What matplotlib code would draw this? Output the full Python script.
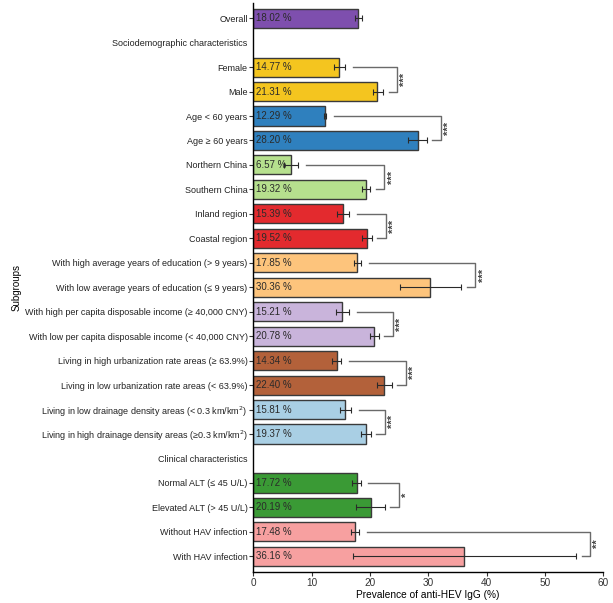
import matplotlib
matplotlib.use("Agg")
import matplotlib.pyplot as plt
import numpy as np

plt.rcParams["font.family"] = ["Liberation Sans", "DejaVu Sans"]

# rows top -> bottom; None = section header row (no bar)
labels = [
    "Overall",
    "Sociodemographic characteristics",
    "Female", "Male",
    "Age < 60 years", "Age \u2265 60 years",
    "Northern China", "Southern China",
    "Inland region", "Coastal region",
    "With high average years of education (> 9 years)",
    "With low average years of education (\u2264 9 years)",
    "With high per capita disposable income (\u2265 40,000 CNY)",
    "With low per capita disposable income (< 40,000 CNY)",
    "Living in high urbanization rate areas (\u2265 63.9%)",
    "Living in low urbanization rate areas (< 63.9%)",
    "Living in low drainage density areas (< 0.3 km/km$^2$)",
    "Living in high drainage density areas (\u22650.3 km/km$^2$)",
    "Clinical characteristics",
    "Normal ALT (\u2264 45 U/L)", "Elevated ALT (> 45 U/L)",
    "Without HAV infection", "With HAV infection",
]
values = [18.02, None, 14.77, 21.31, 12.29, 28.20, 6.57, 19.32, 15.39, 19.52,
          17.85, 30.36, 15.21, 20.78, 14.34, 22.40, 15.81, 19.37, None,
          17.72, 20.19, 17.48, 36.16]
ci_low = [17.4, None, 13.9, 20.6, 12.1, 26.6, 5.2, 18.7, 14.4, 18.7,
          17.3, 25.2, 14.2, 20.1, 13.5, 21.3, 14.8, 18.5, None,
          17.0, 17.7, 16.8, 17.1]
ci_high = [18.7, None, 15.8, 22.3, 12.5, 29.8, 7.7, 20.1, 16.5, 20.4,
           18.5, 35.7, 16.5, 21.6, 15.1, 23.8, 16.8, 20.2, None,
           18.4, 22.6, 18.2, 55.4]
colors = ["#7E4FAE", None, "#F4C51F", "#F4C51F", "#2F80BE", "#2F80BE",
          "#B6E08E", "#B6E08E", "#E32A2E", "#E32A2E", "#FDC47C", "#FDC47C",
          "#C9B4DB", "#C9B4DB", "#B3613A", "#B3613A", "#A9CFE4", "#A9CFE4",
          None, "#3A9A35", "#3A9A35", "#F7A0A0", "#F7A0A0"]

# comparison pairs (row indices) and significance marks
pairs = [(2, 3), (4, 5), (6, 7), (8, 9), (10, 11), (12, 13), (14, 15),
         (16, 17), (19, 20), (21, 22)]
stars = ["***", "***", "***", "***", "***", "***", "***", "***", "*", "**"]

fig = plt.figure(figsize=(6.13, 6.03), dpi=100)
ax = fig.add_axes([0.413, 0.051, 0.571, 0.944])

y = np.arange(len(labels))
for i, v in enumerate(values):
    if v is None:
        continue
    ax.barh(i, v, height=0.78, color=colors[i], edgecolor="#3a3a3a",
            linewidth=1.0, zorder=2)
    ax.errorbar(v, i, xerr=[[v - ci_low[i]], [ci_high[i] - v]], fmt="none",
                ecolor="#2a2a2a", elinewidth=0.8, capsize=2.5, capthick=0.8,
                zorder=3)
    ax.text(0.4, i, f"{v:.2f} %", va="center", ha="left", fontsize=7,
            color="#2a2a2a", zorder=4)

# significance brackets
for (a, b), s in zip(pairs, stars):
    xa = ci_high[a] + 1.3
    xb = ci_high[b] + 0.9
    xv = max(ci_high[a], ci_high[b]) + 2.4
    ax.plot([xa, xv, xv, xb], [a, a, b, b], color="#6a6a6a", lw=1.0,
            zorder=1, clip_on=False)
    ax.text(xv + 0.5, (a + b) / 2, s, rotation=90, va="center", ha="left",
            fontsize=8, fontweight="bold", color="#444444")

ax.set_yticks(y)
ax.set_yticklabels(labels, fontsize=6.5)
for i, v in enumerate(values):
    if v is None:
        ax.yaxis.get_major_ticks()[i].tick1line.set_visible(False)
ax.set_ylim(22.65, -0.62)
ax.set_xlim(0, 60)
ax.set_xticks(range(0, 61, 10))
ax.tick_params(axis="x", labelsize=7.2, length=3, width=0.8, pad=1.5,
               colors="#333333")
ax.tick_params(axis="y", length=3, width=0.8, pad=1, colors="#333333")
for lab in ax.get_yticklabels():
    lab.set_color("#222222")
ax.set_xlabel("Prevalence of anti-HEV IgG (%)", fontsize=7.3, labelpad=1)
ax.set_ylabel("Subgroups", fontsize=7, labelpad=3)
ax.spines["top"].set_visible(False)
ax.spines["right"].set_visible(False)
ax.spines["left"].set_linewidth(1.0)
ax.spines["bottom"].set_linewidth(1.0)

fig.savefig("out.png", dpi=100)
